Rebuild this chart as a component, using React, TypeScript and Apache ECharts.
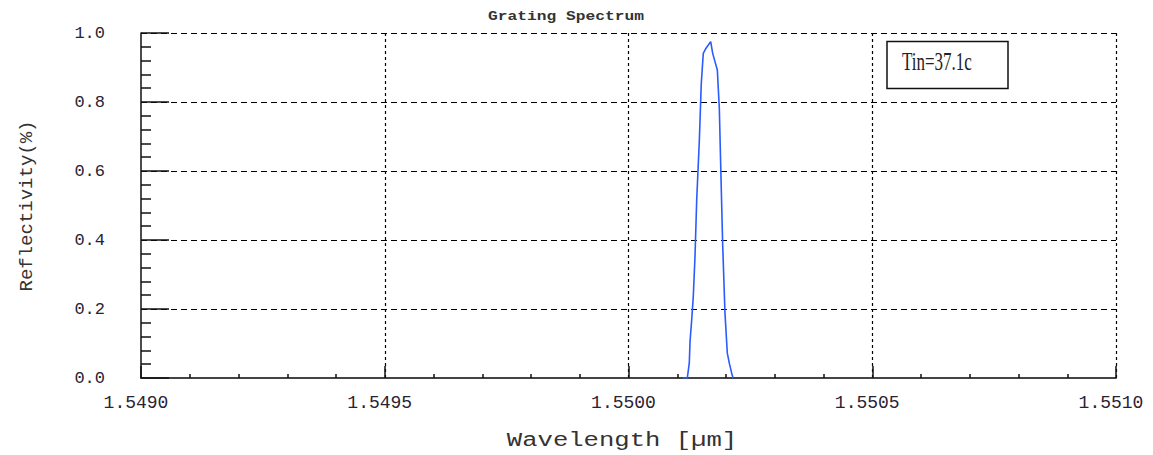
import React, { useEffect, useRef } from "react";
import * as echarts from "echarts";

// Reflection peak of the Bragg grating (wavelength in µm, reflectivity)
const wavelengths = [
  1.5501112, 1.5501206, 1.5501247, 1.5501262, 1.5501296, 1.5501329, 1.5501364,
  1.5501399, 1.5501452, 1.5501493, 1.5501534, 1.550159, 1.5501637, 1.5501686,
  1.5501727, 1.5501774, 1.5501822, 1.5501863, 1.5501897, 1.5501932, 1.5501979,
  1.5502027, 1.5502068, 1.5502117, 1.5502144,
];
const reflectivity = [
  0.0, 0.0, 0.043, 0.105, 0.168, 0.236, 0.352,
  0.516, 0.685, 0.854, 0.941, 0.956, 0.965, 0.975,
  0.941, 0.917, 0.893, 0.782, 0.583, 0.386, 0.188,
  0.072, 0.043, 0.014, 0.0,
];

const xRange = [1.549, 1.551];
const xStep = 0.0005;
const yRange = [0, 1];
const yStep = 0.2;

const chartTitle = "Grating Spectrum";
const xName = "Wavelength [µm]";
const yName = "Reflectivity(%)";
const legendText = "Tin=37.1c";

const MONO = "'Liberation Mono', 'DejaVu Sans Mono', monospace";
const SERIF = "'Liberation Serif', 'DejaVu Serif', serif";

export default function App() {
  const ref = useRef<HTMLDivElement>(null);

  useEffect(() => {
    if (!ref.current) return;
    const chart = echarts.init(ref.current, null, { renderer: "svg" });

    const points = wavelengths.map((w, i) => [w, reflectivity[i]]);

    chart.setOption({
      animation: false,
      backgroundColor: "#ffffff",
      grid: { left: 141, right: 37, top: 33, bottom: 77, containLabel: false },
      xAxis: {
        type: "value",
        min: xRange[0],
        max: xRange[1],
        interval: xStep,
        axisLine: { show: true, lineStyle: { color: "#444", width: 2 } },
        axisTick: { show: true, inside: true, length: 12, lineStyle: { color: "#111", width: 1.5 } },
        minorTick: { show: true, splitNumber: 5, length: 4, lineStyle: { color: "#111", width: 1.5 } },
        axisLabel: {
          show: true,
          margin: 16,
          padding: [0, 10, 0, 0],
          color: "#2a2233",
          fontFamily: MONO,
          fontSize: 18,
          formatter: (v: number) => v.toFixed(4),
        },
        splitLine: {
          show: true,
          showMinLine: false,
          lineStyle: { color: "#000", width: 1.2, type: [3, 3] },
        },
      },
      yAxis: {
        type: "value",
        min: yRange[0],
        max: yRange[1],
        interval: yStep,
        axisLine: { show: true, lineStyle: { color: "#111", width: 1.5 } },
        axisTick: { show: true, inside: true, length: 28, lineStyle: { color: "#111", width: 1.5 } },
        minorTick: { show: true, splitNumber: 5, length: 10, lineStyle: { color: "#111", width: 1.5 } },
        axisLabel: {
          show: true,
          margin: 36,
          color: "#2a2233",
          fontFamily: MONO,
          fontSize: 17,
          formatter: (v: number) => v.toFixed(1),
        },
        splitLine: {
          show: true,
          showMinLine: false,
          lineStyle: { color: "#000", width: 1.2, type: [6, 4] },
        },
      },
      series: [
        {
          type: "line",
          data: points,
          showSymbol: false,
          symbol: "none",
          lineStyle: { color: "#2a5bff", width: 1.6 },
          z: 5,
        },
      ],
      graphic: [
        {
          type: "text",
          x: 566,
          y: 16,
          scaleX: 1.25,
          style: {
            text: chartTitle,
            align: "center",
            verticalAlign: "middle",
            font: `bold 13px ${MONO}`,
            fill: "#333",
          },
        },
        {
          type: "text",
          x: 622,
          y: 441,
          scaleX: 1.28,
          style: {
            text: xName,
            align: "center",
            verticalAlign: "middle",
            font: `20px ${MONO}`,
            fill: "#333",
          },
        },
        {
          type: "text",
          x: 27,
          y: 206,
          rotation: Math.PI / 2,
          style: {
            text: yName,
            align: "center",
            verticalAlign: "middle",
            font: `19px ${MONO}`,
            fill: "#333",
          },
        },
        {
          type: "rect",
          shape: { x: 887, y: 41.5, width: 121, height: 47 },
          style: { fill: "#fff", stroke: "#111", lineWidth: 1.5 },
          z: 10,
        },
        {
          type: "text",
          x: 902,
          y: 62,
          scaleY: 1.45,
          z: 11,
          style: {
            text: legendText,
            align: "left",
            verticalAlign: "middle",
            font: `17px ${SERIF}`,
            fill: "#222",
          },
        },
      ],
    });

    return () => chart.dispose();
  }, []);

  return (
    <div
      ref={ref}
      style={{ position: "fixed", left: 0, top: 0, width: 1153, height: 455 }}
    />
  );
}
